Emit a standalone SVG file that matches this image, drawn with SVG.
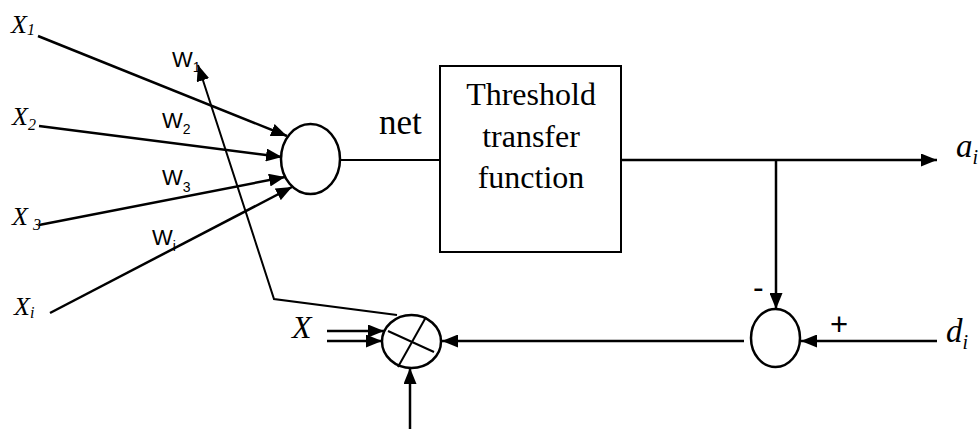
<svg xmlns="http://www.w3.org/2000/svg" width="979" height="429" viewBox="0 0 979 429">
<style>
.ln{stroke:#000;stroke-width:2.5;fill:none}
.thin{stroke:#000;stroke-width:2;fill:none}
.ser{font-family:"Liberation Serif","Times New Roman",serif;fill:#000}
.it{font-style:italic}
.san{font-family:"Liberation Sans",Arial,sans-serif;fill:#000}
</style>
<defs>
<marker id="ah" markerUnits="userSpaceOnUse" markerWidth="17" markerHeight="13" refX="16" refY="6.5" orient="auto">
<path d="M0,0 L16,6.5 L0,13 z" fill="#000"/>
</marker>
</defs>
<rect width="979" height="429" fill="#fff"/>
<g id="connectors">
<line class="ln" x1="38" y1="36" x2="287" y2="136" marker-end="url(#ah)"/>
<line class="ln" x1="39" y1="126" x2="282" y2="157" marker-end="url(#ah)"/>
<line class="ln" x1="39" y1="225" x2="285" y2="177" marker-end="url(#ah)"/>
<line class="ln" x1="50" y1="313" x2="292" y2="187" marker-end="url(#ah)"/>
<line class="thin" x1="340" y1="160" x2="440" y2="160"/>
<line class="ln" x1="621" y1="160" x2="937" y2="160" marker-end="url(#ah)"/>
<line class="ln" x1="776" y1="160" x2="776" y2="309" marker-end="url(#ah)"/>
<line class="ln" x1="937" y1="341" x2="801" y2="341" marker-end="url(#ah)"/>
<line class="ln" x1="744" y1="341" x2="442" y2="341" marker-end="url(#ah)"/>
<line class="ln" x1="327" y1="331" x2="384" y2="331" marker-end="url(#ah)"/>
<line class="ln" x1="327" y1="341" x2="382" y2="341" marker-end="url(#ah)"/>
<line class="ln" x1="410" y1="429" x2="410" y2="368" marker-end="url(#ah)"/>
<polyline class="thin" points="397,315 274,299 198,65" marker-end="url(#ah)"/>
</g>
<g id="neuron">
<ellipse class="ln" cx="310.5" cy="159" rx="29.5" ry="35"/>
</g>
<g id="threshold">
<rect class="thin" x="440" y="66" width="181" height="186"/>
<text class="ser" font-size="32" text-anchor="middle" x="531" y="105">Threshold</text>
<text class="ser" font-size="32" text-anchor="middle" x="531" y="147">transfer</text>
<text class="ser" font-size="32" text-anchor="middle" x="531" y="188">function</text>
</g>
<g id="multiplier">
<ellipse class="ln" cx="411.5" cy="341.5" rx="29.5" ry="26.5"/>
<line class="thin" x1="388" y1="331" x2="434" y2="352"/>
<line class="thin" x1="426" y1="317" x2="398" y2="367"/>
</g>
<g id="summer">
<ellipse class="ln" cx="775.5" cy="338" rx="24.5" ry="29"/>
</g>
<g id="labels">
<text class="ser it" font-size="26" x="11" y="33">X<tspan font-size="16" dy="2">1</tspan></text>
<text class="ser it" font-size="26" x="12" y="125">X<tspan font-size="16" dy="5">2</tspan></text>
<text class="ser it" font-size="26" x="12" y="225">X<tspan font-size="16" dx="5" dy="5">3</tspan></text>
<text class="ser it" font-size="26" x="14" y="315">X<tspan font-size="16" dy="3">i</tspan></text>
<text class="san" font-size="22" x="172" y="67">W<tspan font-size="14" dy="5">1</tspan></text>
<text class="san" font-size="22" x="162" y="128">W<tspan font-size="14" dy="6">2</tspan></text>
<text class="san" font-size="22" x="162" y="185">W<tspan font-size="14" dy="7">3</tspan></text>
<text class="san" font-size="22" x="152" y="245">W<tspan font-size="14" dy="6">i</tspan></text>
<text class="ser" font-size="35" x="379" y="134">net</text>
<text class="ser it" font-size="32" x="292" y="338">X</text>
<text class="san" font-size="32" x="753" y="298">-</text>
<text class="san" font-size="31" x="830" y="335">+</text>
<text class="ser it" font-size="33" x="956" y="157">a<tspan font-size="20" dy="7">i</tspan></text>
<text class="ser it" font-size="33" x="946" y="342">d<tspan font-size="20" dy="7">i</tspan></text>
</g>
</svg>
